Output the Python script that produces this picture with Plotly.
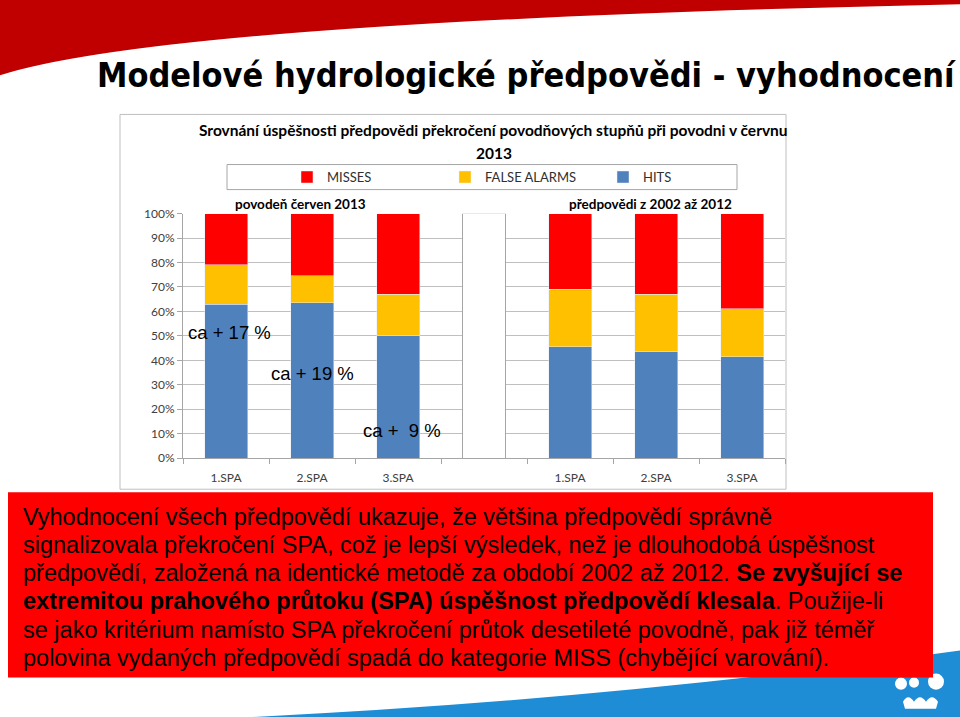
import plotly.graph_objects as go

W, H = 960, 717

# ---------------- data ----------------
categories = ["1.SPA", "2.SPA", "3.SPA", "", "1.SPA", "2.SPA", "3.SPA"]
hits = [63, 63.5, 50, None, 45.5, 43.5, 41.5]
false_alarms = [16, 11, 17, None, 23.5, 23.5, 19.5]
misses = [21, 25.5, 33, None, 31, 33, 39]
gap = [None, None, None, 100, None, None, None]
y_ticks = [0, 10, 20, 30, 40, 50, 60, 70, 80, 90, 100]
y_tick_labels = [f"{v}%" for v in y_ticks]
group_labels = ["povodeň červen 2013", "předpovědi z 2002 až 2012"]
diff_labels = ["ca + 17 %", "ca + 19 %", "ca +\u00a0 9 %"]
para_lines = [
    "Vyhodnocení všech předpovědí ukazuje, že většina předpovědí správně",
    "signalizovala překročení SPA, což je lepší výsledek, než je dlouhodobá úspěšnost",
    "předpovědí, založená na identické metodě za období 2002 až 2012. <b>Se zvyšující se</b>",
    "<b>extremitou prahového průtoku (SPA) úspěšnost předpovědí klesala</b>. Použije-li",
    "se jako kritérium namísto SPA překročení průtok desetileté povodně, pak již téměř",
    "polovina vydaných předpovědí spadá do kategorie MISS (chybějící varování).",
]

x_idx = list(range(len(categories)))

# the page photograph maps figure y to 0.977*y + 8.8; positions below are target pixels
Y_SCALE, Y_OFF = 0.977, 8.8


def px(x):
    return x / W


def py(y):
    return 1 - ((y - Y_OFF) / Y_SCALE) / H


def pt(x, y):
    return f"{px(x):.5f},{py(y):.5f}"


fig = go.Figure()
fig.add_trace(go.Bar(name="HITS", x=x_idx, y=hits, marker_color="#4F81BD", width=0.5))
fig.add_trace(go.Bar(name="FALSE ALARMS", x=x_idx, y=false_alarms, marker_color="#FFC000", width=0.5))
fig.add_trace(go.Bar(name="MISSES", x=x_idx, y=misses, marker_color="#FF0000", width=0.5))
fig.add_trace(go.Bar(name="gap", x=x_idx, y=gap, width=0.5, showlegend=False,
                     marker=dict(color="white", line=dict(color="#A6A6A6", width=1))))

shapes = []
# red swoosh top
shapes.append(dict(type="path", xref="paper", yref="paper", layer="above",
                   path=f"M {pt(0,-20)} L {pt(960,-20)} L {pt(960,5)} Q {pt(170,22)} {pt(0,76)} Z",
                   fillcolor="#C00000", line=dict(width=0)))
# chart box
shapes.append(dict(type="rect", xref="paper", yref="paper", layer="below",
                   x0=px(120), x1=px(786), y0=py(489), y1=py(115),
                   fillcolor="white", line=dict(color="#BFBFBF", width=1)))
# legend box
shapes.append(dict(type="rect", xref="paper", yref="paper", layer="below",
                   x0=px(227), x1=px(737), y0=py(190), y1=py(165),
                   fillcolor="white", line=dict(color="#A6A6A6", width=1)))
# blue swoosh bottom
shapes.append(dict(type="path", xref="paper", yref="paper", layer="above",
                   path=f"M {pt(0,725)} Q {pt(500,715)} {pt(960,650)} L {pt(960,740)} L {pt(0,740)} Z",
                   fillcolor="#1F8DD6", line=dict(width=0)))
# logo
for cx, cy, r in [(901, 683, 6), (914, 682, 5), (936, 681, 8)]:
    shapes.append(dict(type="circle", xref="paper", yref="paper", layer="above",
                       x0=px(cx - r), x1=px(cx + r), y0=py(cy + r), y1=py(cy - r),
                       fillcolor="white", line=dict(width=0)))
shapes.append(dict(type="path", xref="paper", yref="paper", layer="above",
                   path=(f"M {pt(903,701)} Q {pt(908,692)} {pt(914,701)} Q {pt(920,692)} {pt(926,701)} "
                         f"Q {pt(932,692)} {pt(938,701)} L {pt(936,708)} L {pt(905,708)} Z"),
                   fillcolor="white", line=dict(width=0)))
# red text box
shapes.append(dict(type="rect", xref="paper", yref="paper", layer="above",
                   x0=px(8), x1=px(933), y0=py(677), y1=py(492),
                   fillcolor="#FF0000", line=dict(width=0)))

annotations = []
annotations.append(dict(text="<b>Modelové hydrologické předpovědi - vyhodnocení</b>",
                        x=px(95), y=py(76), xref="paper", yref="paper",
                        xanchor="left", yanchor="middle", showarrow=False,
                        font=dict(family="DejaVu Sans Condensed, Liberation Sans Narrow", size=34, color="black")))
annotations.append(dict(text="<b>Srovnání úspěšnosti předpovědi překročení povodňových stupňů při povodni v červnu</b>",
                        x=px(494), y=py(131), xref="paper", yref="paper",
                        xanchor="center", yanchor="middle", showarrow=False,
                        font=dict(family="Lato", size=15.5, color="black")))
annotations.append(dict(text="<b>2013</b>",
                        x=px(494), y=py(153), xref="paper", yref="paper",
                        xanchor="center", yanchor="middle", showarrow=False,
                        font=dict(family="Lato", size=15.5, color="black")))
for lab, cx in zip(group_labels, [300, 650]):
    annotations.append(dict(text=f"<b>{lab}</b>", x=px(cx), y=py(204), xref="paper", yref="paper",
                            xanchor="center", yanchor="middle", showarrow=False,
                            font=dict(family="Lato", size=13.5, color="black")))
for lab, (lx, ly) in zip(diff_labels, [(186, 333), (269, 374), (361, 430)]):
    annotations.append(dict(text=lab, x=px(lx), y=py(ly), xref="paper", yref="paper",
                            xanchor="left", yanchor="middle", showarrow=False,
                            font=dict(family="Liberation Sans", size=18.5, color="black")))
for i, line in enumerate(para_lines):
    annotations.append(dict(text=line, x=px(21), y=py(517 + 28 * i), xref="paper", yref="paper",
                            xanchor="left", yanchor="middle", align="left", showarrow=False,
                            font=dict(family="Liberation Sans", size=23.5, color="black")))

fig.update_layout(
    width=W, height=H, autosize=False,
    margin=dict(l=0, r=0, t=0, b=0),
    paper_bgcolor="white", plot_bgcolor="rgba(0,0,0,0)",
    barmode="stack", bargap=0.5,
    shapes=shapes, annotations=annotations,
    showlegend=True,
    legend=dict(orientation="h", traceorder="reversed",
                x=px(287), y=py(177.5), xanchor="left", yanchor="middle",
                borderwidth=0, bgcolor="rgba(0,0,0,0)",
                entrywidth=113, entrywidthmode="pixels",
                font=dict(family="Lato", size=13, color="#303030")),
    xaxis=dict(domain=[px(183), px(785)], range=[-0.5, 6.5],
               tickvals=x_idx, ticktext=categories, ticks="",
               ticklabelstandoff=8,
               showline=True, linecolor="#A6A6A6", linewidth=1,
               showgrid=False, zeroline=False,
               tickfont=dict(family="Lato", size=12, color="#404040"),
               minor=dict(tickvals=[i - 0.5 for i in range(len(categories) + 1)],
                          ticks="outside", ticklen=5, tickcolor="#A6A6A6", showgrid=False)),
    yaxis=dict(domain=[py(458), py(214)], range=[0, 100],
               tickvals=y_ticks, ticktext=y_tick_labels,
               ticks="outside", ticklen=5, tickcolor="#A6A6A6",
               showline=True, linecolor="#A6A6A6", linewidth=1,
               showgrid=True, gridcolor="#BFBFBF", gridwidth=1, zeroline=False,
               tickfont=dict(family="Lato", size=12, color="#404040")),
)

post = (
    "var h=document.documentElement,b=document.body;"
    "h.style.margin='0';h.style.padding='0';h.style.overflow='hidden';"
    "b.style.margin='0';b.style.padding='0';b.style.overflow='hidden';"
    "var gd=document.getElementById('{plot_id}');"
    "gd.style.position='fixed';gd.style.top='0px';gd.style.left='0px';"
)
fig.write_html("out.html", config={"displayModeBar": False}, post_script=post)
